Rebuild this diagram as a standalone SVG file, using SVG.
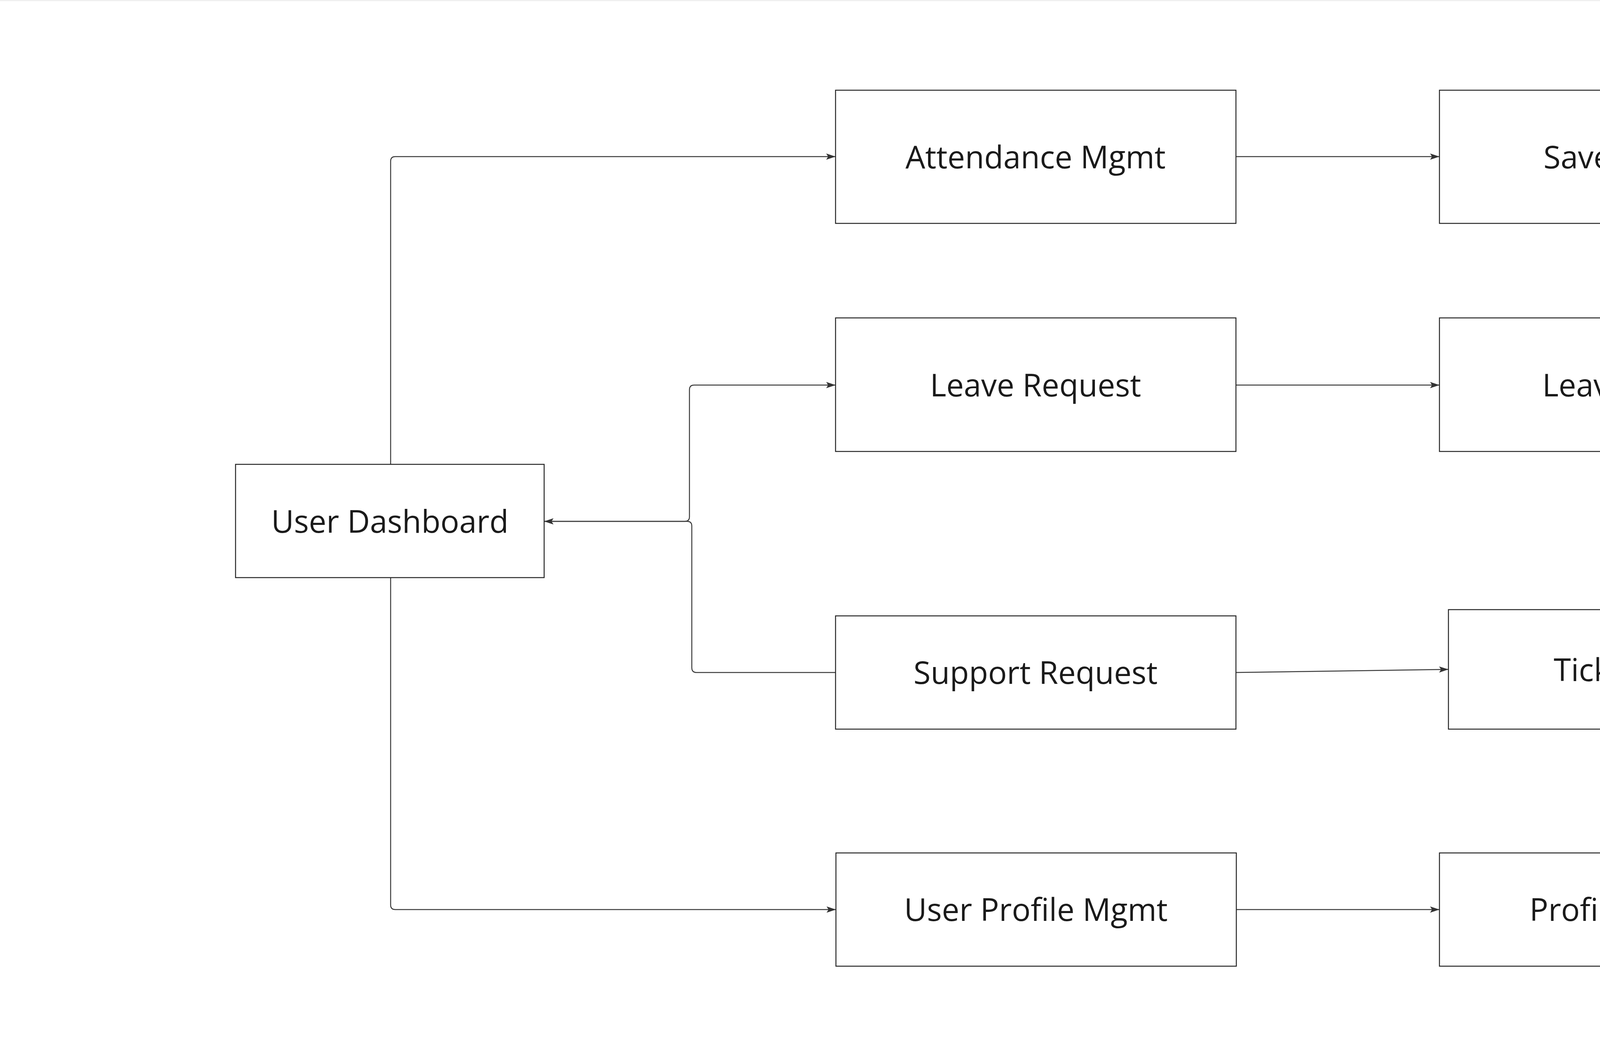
<svg xmlns="http://www.w3.org/2000/svg" width="6007" height="2663" viewBox="0 0 6007 2663">
<style>
.box{fill:#ffffff;stroke:#262626;stroke-width:2.5}
.lbl{font-family:"Open Sans","Liberation Sans",sans-serif;font-size:80px;fill:#1a1a1a;text-anchor:middle}
.conn{fill:none;stroke:#3a3a3a;stroke-width:2.5}
</style>
<defs>
<marker id="arr" markerUnits="userSpaceOnUse" markerWidth="26" markerHeight="18" refX="24" refY="9" orient="auto">
<path d="M0,1 L24,9 L0,17 L5,9 Z" fill="#333333"/>
</marker>
</defs>
<rect x="0" y="0" width="6007" height="2663" fill="#ffffff"/>
<rect x="0" y="0" width="6007" height="3" fill="#efefef"/>
<g id="connectors">
<path class="conn" d="M1000,1189 L1000,413 Q1000,401 1012,401 L2139,401" marker-end="url(#arr)"/>
<path class="conn" d="M1000,1479 L1000,2317 Q1000,2329 1012,2329 L2140,2329" marker-end="url(#arr)"/>
<path class="conn" d="M1393,1335 L1753,1335 Q1765,1335 1765,1323 L1765,998 Q1765,986 1777,986 L2139,986" marker-end="url(#arr)"/>
<path class="conn" d="M2139,1722 L1783,1722 Q1771,1722 1771,1710 L1771,1347 Q1771,1335 1759,1335 L1393,1335" marker-end="url(#arr)"/>
<path class="conn" d="M3164,401 L3685,401" marker-end="url(#arr)"/>
<path class="conn" d="M3164,986 L3685,986" marker-end="url(#arr)"/>
<path class="conn" d="M3164,1722 L3708,1714" marker-end="url(#arr)"/>
<path class="conn" d="M3165,2329 L3685,2329" marker-end="url(#arr)"/>
</g>
<g id="user-dashboard">
<rect class="box" x="603" y="1189" width="790" height="290"/>
<text class="lbl" x="998" y="1364">User Dashboard</text>
</g>
<g id="attendance-mgmt">
<rect class="box" x="2139" y="231" width="1025" height="341"/>
<text class="lbl" x="2651" y="431">Attendance Mgmt</text>
</g>
<g id="save-changes">
<rect class="box" x="3685" y="231" width="1047" height="341"/>
<text class="lbl" x="4208" y="431">Save Changes</text>
</g>
<g id="leave-request">
<rect class="box" x="2139" y="814" width="1025" height="342"/>
<text class="lbl" x="2651" y="1015">Leave Request</text>
</g>
<g id="leave-applied">
<rect class="box" x="3685" y="814" width="1047" height="342"/>
<text class="lbl" x="4208" y="1015">Leave Applied</text>
</g>
<g id="support-request">
<rect class="box" x="2139" y="1577" width="1025" height="290"/>
<text class="lbl" x="2651" y="1751">Support Request</text>
</g>
<g id="ticket-raised">
<rect class="box" x="3708" y="1561" width="1024" height="306"/>
<text class="lbl" x="4220" y="1744">Ticket Raised</text>
</g>
<g id="user-profile-mgmt">
<rect class="box" x="2140" y="2184" width="1025" height="290"/>
<text class="lbl" x="2652" y="2358">User Profile Mgmt</text>
</g>
<g id="profile-updated">
<rect class="box" x="3685" y="2184" width="1047" height="290"/>
<text class="lbl" x="4208" y="2358">Profile Updated</text>
</g>
</svg>
